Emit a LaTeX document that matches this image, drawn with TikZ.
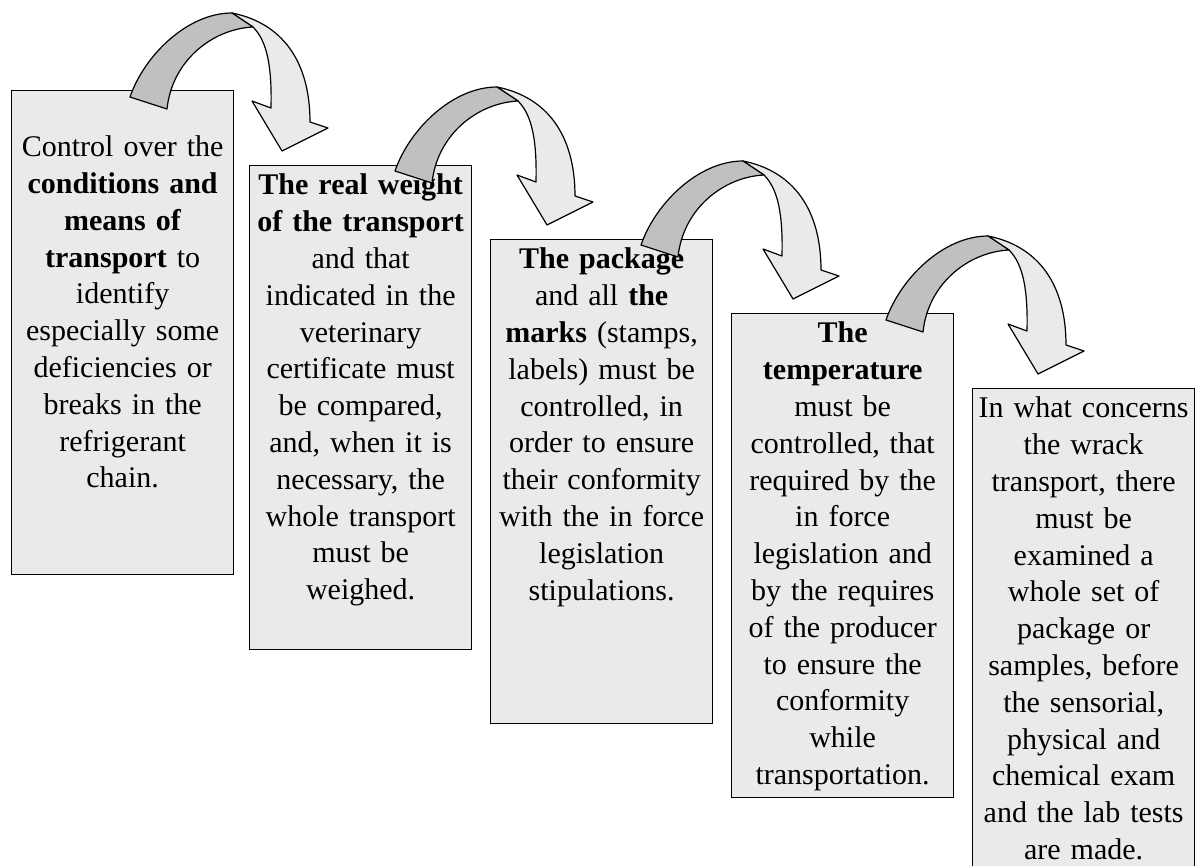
\documentclass[tikz,border=0pt]{standalone}
\usepackage{fontspec}
\setmainfont{Liberation Serif}
\definecolor{boxfill}{HTML}{EAEAEA}
\definecolor{darkband}{HTML}{C0C0C0}
\tikzset{
 stepbox/.style={draw=black, line width=1.3pt, fill=boxfill, minimum width=222pt, minimum height=484pt, inner sep=0pt, anchor=north west},
 boxtext/.style={text width=222pt, align=center, inner sep=0pt, anchor=north, yshift=-4pt, font=\fontsize{30}{36.8}\selectfont},
 band/.style={draw=black, line width=1.2pt, fill=darkband, line join=round},
 face/.style={draw=black, line width=1.2pt, fill=boxfill, line join=round},
 ribbon/.pic={
  \path[face] (-50,-138) .. controls (0,-128) and (28,-90) .. (28,-29) -- (46,-23) -- (0,0) -- (-30,-50) -- (-11,-43) .. controls (-10,-85) and (-15,-110) .. (-29,-124) -- cycle;
  \path[band] (-152,-54) .. controls (-138,-95) and (-95,-138) .. (-50,-138) -- (-29,-124) .. controls (-70,-122) and (-110,-90) .. (-115,-42) -- cycle;
 }
}
\begin{document}
\begin{tikzpicture}[x=1pt,y=-1pt]
\useasboundingbox (0,0) rectangle (1197,865);
\node[stepbox] (b1) at (11,90) {};
\node[stepbox] (b2) at (249,165) {};
\node[stepbox] (b3) at (490,239) {};
\node[stepbox] (b4) at (731,313) {};
\node[stepbox] (b5) at (972,388) {};
\node[boxtext] (t1) at (b1.north) {\strut\\Control over the\\\textbf{conditions and}\\\textbf{means of}\\\textbf{transport} to\\identify\\especially some\\deficiencies or\\breaks in the\\refrigerant\\chain.};
\node[boxtext] (t2) at (b2.north) {\strut\textbf{The real weight}\\\textbf{of the transport}\\and that\\indicated in the\\veterinary\\certificate must\\be compared,\\and, when it is\\necessary, the\\whole transport\\must be\\weighed.};
\node[boxtext] (t3) at (b3.north) {\strut\textbf{The package}\\and all \textbf{the}\\\textbf{marks} (stamps,\\labels) must be\\controlled, in\\order to ensure\\their conformity\\with the in force\\legislation\\stipulations.};
\node[boxtext] (t4) at (b4.north) {\strut\textbf{The}\\\textbf{temperature}\\must be\\controlled, that\\required by the\\in force\\legislation and\\by the requires\\of the producer\\to ensure the\\conformity\\while\\transportation.};
\node[boxtext] (t5) at (b5.north) {\strut In what concerns\\the wrack\\transport, there\\must be\\examined a\\whole set of\\package or\\samples, before\\the sensorial,\\physical and\\chemical exam\\and the lab tests\\are made.};
\pic (r1) at (282,151) {ribbon};
\pic (r2) at (547,225) {ribbon};
\pic (r3) at (793,299) {ribbon};
\pic (r4) at (1038,374) {ribbon};
\end{tikzpicture}
\end{document}
